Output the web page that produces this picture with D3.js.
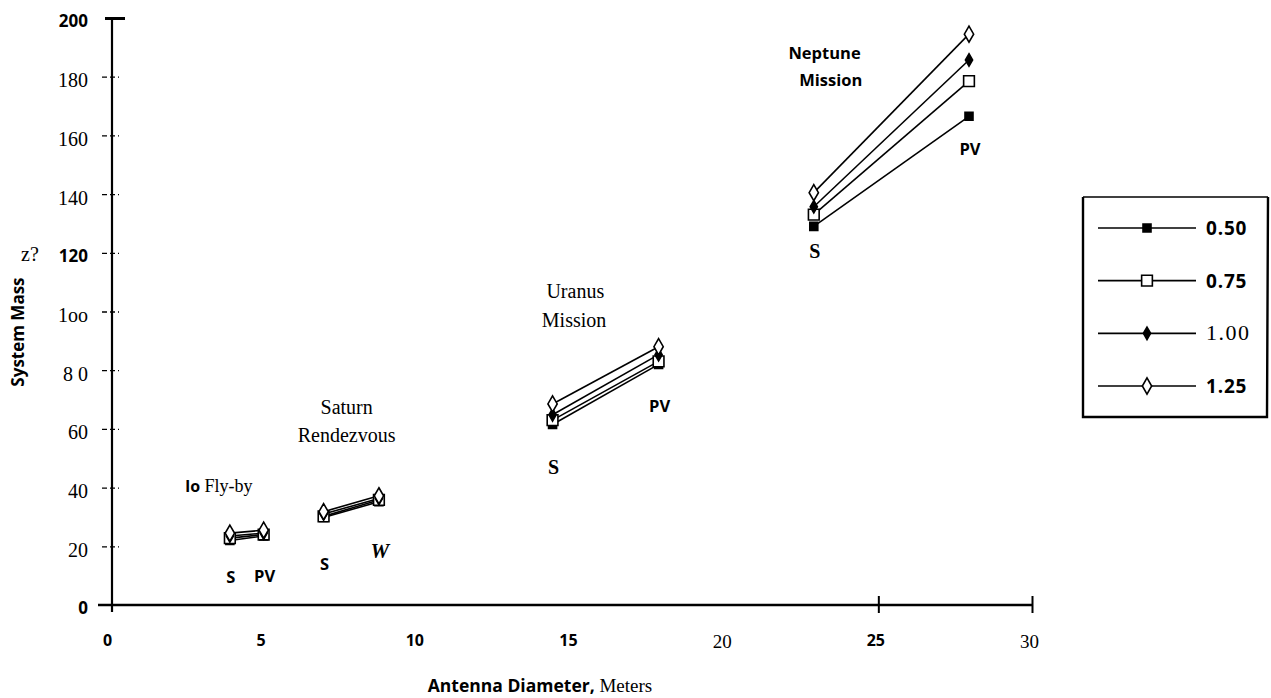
<!DOCTYPE html>
<html>
<head>
<meta charset="utf-8">
<script src="https://cdn.jsdelivr.net/npm/d3@7"></script>
<style>
    body { margin: 0; background: #fff; }
    svg { display: block; }
    .sans { font-family: 'Open Sans', sans-serif; font-weight: 700; }
    .serif { font-family: 'Liberation Serif', serif; font-weight: 400; }
</style>
</head>
<body>
<svg id="chart"></svg>
<script>
// mission groups, each one is a pair S -> PV
const missions = ['Io Fly-by', 'Saturn Rendezvous', 'Uranus Mission', 'Neptune Mission'];
const diameters = [[3.9, 5.0], [6.95, 8.75], [14.4, 17.85], [22.9, 27.95]];
const pointLabels = [['S', 'PV'], ['S', 'W'], ['S', 'PV'], ['S', 'PV']];

const seriesNames = ['0.50', '0.75', '1.00', '1.25'];
const mass050 = [[22.0, 23.5], [29.8, 35.2], [61.5, 82.0], [129.0, 166.5]];
const mass075 = [[22.8, 24.0], [30.2, 35.8], [63.0, 83.0], [133.0, 178.5]];
const mass100 = [[23.5, 24.5], [31.0, 36.3], [64.8, 85.3], [135.7, 185.7]];
const mass125 = [[24.5, 25.5], [31.8, 37.2], [68.5, 88.0], [140.5, 194.5]];

const xTicks = [0, 5, 10, 15, 20, 25, 30];
const xTickLabels = ['0', '5', '10', '15', '20', '25', '30'];
const yTicks = [0, 20, 40, 60, 80, 100, 120, 140, 160, 180, 200];
const yTickLabels = ['0', '20', '40', '60', '8 0', '1oo', '120', '140', '160', '180', '200'];

let graphicopt = {
    width: 1271,
    height: 698,
    x0: 110, x1: 1032,
    y0: 605, y1: 18
};

let svg = d3.select('#chart').attr('width', graphicopt.width).attr('height', graphicopt.height);

let x = d3.scaleLinear().domain([0, 30]).range([graphicopt.x0, graphicopt.x1]);
let y = d3.scaleLinear().domain([0, 200]).range([graphicopt.y0, graphicopt.y1]);

const serifX = ['20', '30'];
const sansY = ['0', '120', '200'];

// y axis
let yAxis = d3.axisLeft(y).tickValues(yTicks).tickSize(0).tickPadding(24)
    .tickFormat((d, i) => yTickLabels[i]);
let gy = svg.append('g').attr('transform', `translate(${x(0) + 2},0)`).call(yAxis);
gy.select('.domain').remove();
gy.selectAll('.tick text')
    .attr('class', d => sansY.includes(String(d)) ? 'sans' : 'serif')
    .style('font-size', d => sansY.includes(String(d)) ? '17px' : '20px')
    .attr('dy', '0.5em')
    .attr('fill', '#000');
gy.selectAll('.tick line').remove();
gy.selectAll('.tick').filter(d => d > 0 && d < 200).append('line')
    .attr('x1', -10).attr('x2', 7).attr('stroke', '#000').attr('stroke-width', 1.3)
    .attr('stroke-dasharray', '5,3');
gy.selectAll('.tick').filter(d => d === 200).append('line')
    .attr('x1', -7).attr('x2', 13).attr('stroke', '#000').attr('stroke-width', 3);
gy.append('line').attr('y1', y(200)).attr('y2', y(0) + 7)
    .attr('stroke', '#000').attr('stroke-width', 2.2);

// x axis
let xAxis = d3.axisBottom(x).tickValues(xTicks).tickSize(0).tickPadding(30)
    .tickFormat((d, i) => xTickLabels[i]);
let gx = svg.append('g').attr('transform', `translate(0,${y(0)})`).call(xAxis);
gx.select('.domain').remove();
gx.selectAll('.tick text')
    .attr('class', d => serifX.includes(String(d)) ? 'serif' : 'sans')
    .attr('x', -3)
    .style('font-size', d => serifX.includes(String(d)) ? '19px' : '16px')
    .attr('fill', '#000');
gx.selectAll('.tick').filter(d => d >= 25).append('line')
    .attr('y1', -9).attr('y2', 8).attr('stroke', '#000').attr('stroke-width', 2);
gx.append('line').attr('x1', x(0) - 12).attr('x2', x(30) + 1)
    .attr('stroke', '#000').attr('stroke-width', 2.6);

// axis titles
let xt = svg.append('text').attr('x', 540).attr('y', 692).attr('text-anchor', 'middle');
xt.append('tspan').attr('class', 'sans').style('font-size', '17.5px').text('Antenna Diameter,');
xt.append('tspan').attr('class', 'serif').style('font-size', '19px').text(' Meters');

svg.append('text').attr('class', 'sans').style('font-size', '17px')
    .attr('transform', `translate(24,${y(93)}) rotate(-90)`).attr('text-anchor', 'middle')
    .text('System Mass');
svg.append('text').attr('class', 'serif').style('font-size', '20px')
    .attr('x', 30).attr('y', y(120) + 8).attr('text-anchor', 'middle').text('z?');

// series
const seriesData = [mass050, mass075, mass100, mass125];
const markers = [
    {type: d3.symbolSquare, size: 64, fill: '#000'},
    {type: d3.symbolSquare, size: 115, fill: '#fff'},
    {type: d3.symbolDiamond, size: 45, fill: '#000'},
    {type: d3.symbolDiamond, size: 75, fill: '#fff'}
];

let line = d3.line().x(d => x(d[0])).y(d => y(d[1]));
let plot = svg.append('g').attr('class', 'plot');

seriesData.forEach((s, si) => {
    let segs = s.map((pair, mi) => pair.map((v, k) => [diameters[mi][k], v]));
    plot.selectAll('.seg' + si).data(segs).enter().append('path')
        .attr('class', 'seg' + si)
        .attr('d', line)
        .attr('fill', 'none').attr('stroke', '#000').attr('stroke-width', 1.6);
});
seriesData.forEach((s, si) => {
    let pts = [];
    s.forEach((pair, mi) => pair.forEach((v, k) => pts.push([diameters[mi][k], v])));
    plot.selectAll('.pt' + si).data(pts).enter().append('path')
        .attr('class', 'pt' + si)
        .attr('transform', d => `translate(${x(d[0])},${y(d[1])})`)
        .attr('d', d3.symbol().type(markers[si].type).size(markers[si].size))
        .attr('fill', markers[si].fill).attr('stroke', '#000').attr('stroke-width', 1.6);
});

// S / PV labels under each end
const labelDy = [[43, 46], [52, 56], [50, 48], [32, 39]];
const labelFont = [['sans', 'sans'], ['sans', 'serif'], ['serif', 'sans'], ['serif', 'sans']];
pointLabels.forEach((pair, mi) => {
    pair.forEach((t, k) => {
        let lowest = d3.min(seriesData, s => s[mi][k]);
        let txt = svg.append('text')
            .attr('class', labelFont[mi][k])
            .attr('x', x(diameters[mi][k]) + 1)
            .attr('y', y(lowest) + labelDy[mi][k])
            .attr('text-anchor', 'middle')
            .style('font-size', labelFont[mi][k] === 'sans' ? '16.5px' : '20px')
            .text(t);
        if (t === 'W') txt.style('font-weight', 700).style('font-style', 'italic').style('font-size', '21px');
        if (t === 'S' && labelFont[mi][k] === 'serif') txt.style('font-weight', 700);
    });
});

// mission annotations
let io = svg.append('text').attr('x', x(2.45)).attr('y', y(38.5));
io.append('tspan').attr('class', 'sans').style('font-size', '16px').text('lo');
io.append('tspan').attr('class', 'serif').style('font-size', '18px').text(' Fly-by');

svg.append('text').attr('class', 'serif').style('font-size', '20px')
    .attr('x', x(7.7)).attr('y', y(65)).attr('text-anchor', 'middle').text('Saturn');
svg.append('text').attr('class', 'serif').style('font-size', '20px')
    .attr('x', x(7.7)).attr('y', y(55.4)).attr('text-anchor', 'middle').text('Rendezvous');

svg.append('text').attr('class', 'serif').style('font-size', '20px')
    .attr('x', x(14.2)).attr('y', y(104.6)).text('Uranus');
svg.append('text').attr('class', 'serif').style('font-size', '20px')
    .attr('x', x(14.05)).attr('y', y(94.7)).text('Mission');

svg.append('text').attr('class', 'sans').style('font-size', '16.5px')
    .attr('x', x(23.25)).attr('y', y(186)).attr('text-anchor', 'middle').text('Neptune');
svg.append('text').attr('class', 'sans').style('font-size', '16.5px')
    .attr('x', x(23.45)).attr('y', y(177)).attr('text-anchor', 'middle').text('Mission');

// legend
let lg = svg.append('g').attr('class', 'legend');
lg.append('path').attr('d', 'M1083,197 L1083,417 L1267,417 L1268,197')
    .attr('fill', 'none').attr('stroke', '#000').attr('stroke-width', 2.4);
lg.append('line').attr('x1', 1083).attr('x2', 1268).attr('y1', 197).attr('y2', 197)
    .attr('stroke', '#000').attr('stroke-width', 1.5);
let rowY = d3.scalePoint().domain(seriesNames).range([228, 386]);
seriesNames.forEach((name, i) => {
    let r = lg.append('g').attr('transform', `translate(0,${rowY(name)})`);
    r.append('line').attr('x1', 1098).attr('x2', 1196)
        .attr('stroke', '#000').attr('stroke-width', 1.6);
    r.append('path').attr('transform', 'translate(1147,0)')
        .attr('d', d3.symbol().type(markers[i].type).size(markers[i].size))
        .attr('fill', markers[i].fill).attr('stroke', '#000').attr('stroke-width', 1.6);
    let serifRow = name === '1.00';
    r.append('text').attr('class', serifRow ? 'serif' : 'sans')
        .attr('x', 1206).attr('y', 7)
        .style('font-size', serifRow ? '22px' : '19px')
        .style('letter-spacing', serifRow ? '1.5px' : '0.8px')
        .text(name);
});
</script>
</body>
</html>
